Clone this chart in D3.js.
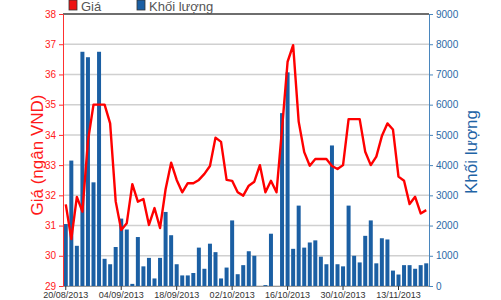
<!DOCTYPE html>
<html>
<head>
<meta charset="utf-8">
<script src="https://cdn.jsdelivr.net/npm/d3@7"></script>
<style>
	body { margin: 0; background: #fff; }
	svg { display: block; font-family: "Liberation Sans", Arial, sans-serif; }
</style>
</head>
<body>
<svg id="chart" width="501" height="300"></svg>
<script>
// trading days 20/08/2013 - 20/11/2013
const dates = [
	"20/08/2013", "21/08/2013", "22/08/2013", "23/08/2013", "26/08/2013", "27/08/2013", "28/08/2013", "29/08/2013", "30/08/2013", "03/09/2013",
	"04/09/2013", "05/09/2013", "06/09/2013", "09/09/2013", "10/09/2013", "11/09/2013", "12/09/2013", "13/09/2013", "16/09/2013", "17/09/2013",
	"18/09/2013", "19/09/2013", "20/09/2013", "23/09/2013", "24/09/2013", "25/09/2013", "26/09/2013", "27/09/2013", "30/09/2013", "01/10/2013",
	"02/10/2013", "03/10/2013", "04/10/2013", "07/10/2013", "08/10/2013", "09/10/2013", "10/10/2013", "11/10/2013", "14/10/2013", "15/10/2013",
	"16/10/2013", "17/10/2013", "18/10/2013", "21/10/2013", "22/10/2013", "23/10/2013", "24/10/2013", "25/10/2013", "28/10/2013", "29/10/2013",
	"30/10/2013", "31/10/2013", "01/11/2013", "04/11/2013", "05/11/2013", "06/11/2013", "07/11/2013", "08/11/2013", "11/11/2013", "12/11/2013",
	"13/11/2013", "14/11/2013", "15/11/2013", "18/11/2013", "19/11/2013", "20/11/2013",
]

// Giá (ngàn VND)
const price = [
	31.7, 30.55, 31.95, 31.46, 33.8, 35.0, 35.0, 35.0, 34.38, 31.8,
	30.85, 31.08, 32.37, 31.79, 31.88, 31.02, 31.58, 30.92, 32.2, 33.08,
	32.51, 32.1, 32.4, 32.4, 32.51, 32.71, 32.97, 33.91, 33.77, 32.51,
	32.48, 32.1, 31.99, 32.32, 32.45, 33.0, 32.1, 32.48, 32.1, 34.2,
	36.42, 36.97, 34.44, 33.43, 32.98, 33.2, 33.2, 33.2, 32.97, 32.87,
	33.0, 34.52, 34.52, 34.52, 33.44, 33.0, 33.28, 33.96, 34.38, 34.18,
	32.62, 32.48, 31.71, 31.95, 31.4, 31.51,
]

// Khối lượng
const volume = [
	2050, 4150, 1330, 7750, 7570, 3430, 7750, 900, 720, 1290,
	2230, 1870, 70, 1620, 650, 930, 250, 930, 2450, 1680,
	720, 350, 350, 430, 1270, 570, 1400, 1120, 250, 610,
	2170, 390, 690, 1150, 1000, 0, 30, 1730, 0, 5720,
	7070, 1230, 2660, 1270, 1440, 1510, 970, 720, 4650, 720,
	650, 2660, 1000, 780, 1660, 2170, 750, 1580, 1540, 510,
	380, 690, 690, 570, 690, 750,
]

const priceTicks = [29, 30, 31, 32, 33, 34, 35, 36, 37, 38]
const volumeTicks = [0, 1000, 2000, 3000, 4000, 5000, 6000, 7000, 8000, 9000]
const dateTicks = dates.filter((d, i) => i % 10 === 0)

const margin = { top: 14, bottom: 14, left: 63, right: 72 }
const width = 501
const height = 300

const svg = d3.select("#chart")

// scales
const scale = {
	x: d3
		.scaleBand()
		.domain(dates)
		.range([margin.left, width - margin.right])
		.paddingInner(0.28)
		.paddingOuter(0.14),
	y: d3.scaleLinear().domain([29, 38]).range([height - margin.bottom, margin.top]),
	v: d3.scaleLinear().domain([0, 9000]).range([height - margin.bottom, margin.top]),
}

// grid
svg.append("g")
	.selectAll("line")
	.data(priceTicks.slice(0, -1))
	.join("line")
	.attr("x1", margin.left)
	.attr("x2", width - margin.right)
	.attr("y1", (d) => scale.y(d))
	.attr("y2", (d) => scale.y(d))
	.attr("stroke", "#d0d0d0")
	.attr("stroke-width", 1.5)

// bars
svg.append("g")
	.selectAll("rect")
	.data(volume)
	.join("rect")
	.attr("x", (d, i) => scale.x(dates[i]))
	.attr("width", scale.x.bandwidth())
	.attr("y", (d) => scale.v(d))
	.attr("height", (d) => scale.v(0) - scale.v(d))
	.attr("fill", "#1b5fa3")

// price line
const line = d3
	.line()
	.x((d, i) => scale.x(dates[i]) + scale.x.bandwidth() / 2)
	.y((d) => scale.y(d))

svg.append("path")
	.datum(price)
	.attr("d", line)
	.attr("fill", "none")
	.attr("stroke", "#ff0000")
	.attr("stroke-width", 2.4)
	.attr("stroke-linejoin", "round")

// top border
svg.append("line")
	.attr("x1", margin.left)
	.attr("x2", width - margin.right)
	.attr("y1", margin.top)
	.attr("y2", margin.top)
	.attr("stroke", "#6e6e6e")
	.attr("stroke-width", 2)

const narrow = "'Liberation Sans Narrow', 'Liberation Sans', sans-serif"

// axes
const axis = {
	x: (g) =>
		g
			.attr("transform", `translate(0, ${height - margin.bottom})`)
			.call(d3.axisBottom(scale.x).tickValues(dateTicks).tickSize(4).tickSizeOuter(0))
			.call((g) => g.select(".domain").attr("stroke", "#9a9a9a"))
			.call((g) => g.selectAll(".tick line").attr("stroke", "#333"))
			.call((g) =>
				g
					.selectAll(".tick text")
					.attr("fill", "#333")
					.attr("font-size", 9)
					.attr("font-family", narrow)
					.attr("y", 6)
					.attr("dy", "0.7em")
			),
	y: (g) =>
		g
			.attr("transform", `translate(${margin.left}, 0)`)
			.call(d3.axisLeft(scale.y).tickValues(priceTicks).tickSize(4).tickSizeOuter(0))
			.call((g) => g.select(".domain").attr("stroke", "#ff3030"))
			.call((g) => g.selectAll(".tick line").attr("stroke", "#ff3030"))
			.call((g) =>
				g
					.selectAll(".tick text")
					.attr("fill", "#ff2020")
					.attr("font-size", 10)
					.attr("font-family", narrow)
			),
	v: (g) =>
		g
			.attr("transform", `translate(${width - margin.right}, 0)`)
			.call(
				d3
					.axisRight(scale.v)
					.tickValues(volumeTicks)
					.tickFormat(d3.format("d"))
					.tickSize(4)
					.tickSizeOuter(0)
			)
			.call((g) => g.select(".domain").attr("stroke", "#4a86bd"))
			.call((g) => g.selectAll(".tick line").attr("stroke", "#4a86bd"))
			.call((g) =>
				g
					.selectAll(".tick text")
					.attr("fill", "#2a6aa6")
					.attr("font-size", 10)
					.attr("font-family", narrow)
			),
}

svg.append("g").call(axis.x)
svg.append("g").call(axis.y)
svg.append("g").call(axis.v)

// axis titles
svg.append("text")
	.attr("transform", `translate(43, 155) rotate(-90)`)
	.attr("text-anchor", "middle")
	.attr("fill", "#ff1a1a")
	.attr("font-size", 17)
	.text("Giá (ngân VND)")

svg.append("text")
	.attr("transform", `translate(477, 152) rotate(-90)`)
	.attr("text-anchor", "middle")
	.attr("fill", "#1f64a6")
	.attr("font-size", 17)
	.text("Khối lượng")

// legend
const legend = [
	{ name: "Giá", color: "#ee1111", x: 69 },
	{ name: "Khối lượng", color: "#1b5fa3", x: 137 },
]
const lg = svg.append("g").selectAll("g").data(legend).join("g")
lg.append("rect")
	.attr("x", (d) => d.x)
	.attr("y", 0)
	.attr("width", 8)
	.attr("height", 10)
	.attr("fill", (d) => d.color)
	.attr("stroke", "#333")
	.attr("stroke-width", 0.8)
lg.append("text")
	.attr("x", (d) => d.x + 12)
	.attr("y", 11)
	.attr("fill", "#555")
	.attr("font-size", 13)
	.text((d) => d.name)
</script>
</body>
</html>
